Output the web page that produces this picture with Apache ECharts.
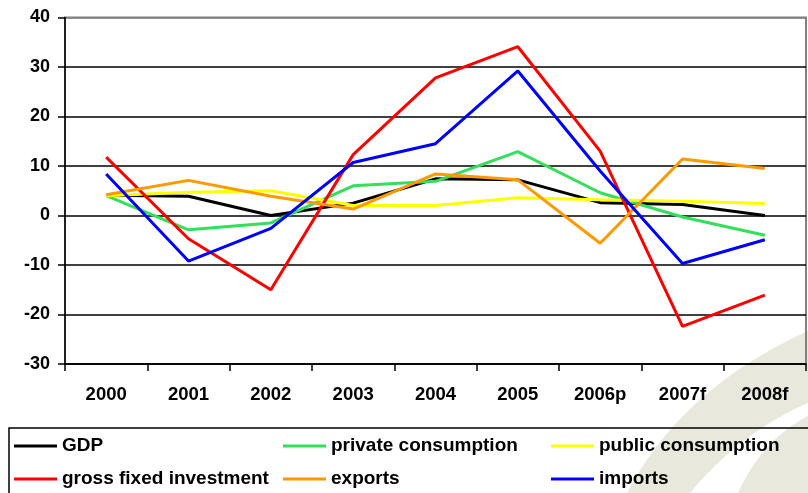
<!DOCTYPE html>
<html>
<head>
<meta charset="utf-8">
<script src="https://cdn.jsdelivr.net/npm/echarts@6/dist/echarts.min.js"></script>
<style>
  html, body { margin: 0; padding: 0; background: #ffffff; }
  #chart { width: 808px; height: 493px; }
</style>
</head>
<body>
<div id="chart"></div>
<script>
// Annual growth rates (%) by demand component
const years = ['2000', '2001', '2002', '2003', '2004', '2005', '2006p', '2007f', '2008f'];
const gdp = [4.1, 3.9, 0.0, 2.5, 7.4, 7.2, 2.6, 2.2, 0.0];
const privateConsumption = [4.0, -2.9, -1.5, 6.0, 6.9, 12.9, 4.6, -0.3, -4.0];
const publicConsumption = [4.0, 4.7, 5.0, 2.0, 2.0, 3.6, 3.2, 2.9, 2.4];
const grossFixedInvestment = [11.8, -4.7, -15.0, 12.3, 27.8, 34.1, 13.0, -22.4, -16.1];
const exportsGrowth = [4.2, 7.1, 3.9, 1.3, 8.4, 7.2, -5.6, 11.4, 9.5];
const importsGrowth = [8.4, -9.2, -2.6, 10.7, 14.5, 29.2, 9.0, -9.7, -4.9];
const yTicks = { min: -30, max: 40, interval: 10 };

const FONT = '"Liberation Sans", Arial, Helvetica, sans-serif';

const seriesDefs = [
  { name: 'GDP', data: gdp, color: '#000000' },
  { name: 'private consumption', data: privateConsumption, color: '#33e05a' },
  { name: 'public consumption', data: publicConsumption, color: '#ffff00' },
  { name: 'gross fixed investment', data: grossFixedInvestment, color: '#ff0000' },
  { name: 'exports', data: exportsGrowth, color: '#ff9900' },
  { name: 'imports', data: importsGrowth, color: '#0000ff' }
];

// Legend laid out as a 3-column, 2-row table
const legendSlots = [
  { left: 14, top: 436 }, { left: 283, top: 436 }, { left: 551, top: 436 },
  { left: 14, top: 469 }, { left: 283, top: 469 }, { left: 551, top: 469 }
];

const legends = seriesDefs.map((s, i) => ({
  data: [s.name],
  left: legendSlots[i].left,
  top: legendSlots[i].top,
  padding: 0,
  icon: 'rect',
  itemWidth: 43,
  itemHeight: 3,
  selectedMode: false,
  textStyle: {
    fontFamily: FONT, fontWeight: 'bold', fontSize: 19, color: '#000',
    lineHeight: 20
  }
}));

// Split line colours: the top line doubles as the grey plot frame
const splitColors = [];
for (let v = yTicks.min; v <= yTicks.max; v += yTicks.interval) {
  splitColors.push(v === yTicks.max ? '#808080' : '#000000');
}

// Sample a quadratic curve into polygon points (for the decorative swooshes)
function quad(p0, c, p1, steps) {
  const pts = [];
  for (let i = 0; i <= steps; i++) {
    const t = i / steps, u = 1 - t;
    pts.push([u * u * p0[0] + 2 * u * t * c[0] + t * t * p1[0],
              u * u * p0[1] + 2 * u * t * c[1] + t * t * p1[1]]);
  }
  return pts;
}
const swooshA = quad([808, 331], [682, 388], [627, 493], 30)
  .concat(quad([690, 493], [741, 432], [808, 403], 30));
const swooshB = quad([808, 416], [762, 440], [738, 493], 30).concat([[808, 493]]);

const chart = echarts.init(document.getElementById('chart'), null, { renderer: 'canvas' });

chart.setOption({
  animation: false,
  backgroundColor: '#ffffff',
  graphic: [
    {
      type: 'polygon', z: -10, silent: true,
      shape: { points: swooshA },
      style: { fill: '#e8e8dc' }
    },
    {
      type: 'polygon', z: -10, silent: true,
      shape: { points: swooshB },
      style: { fill: '#e8e8dc' }
    },
    // legend frame
    {
      type: 'rect', z: 1, silent: true,
      shape: { x: 9, y: 428, width: 820, height: 80 },
      style: { fill: 'none', stroke: '#000000', lineWidth: 1.5 }
    }
  ],
  grid: {
    left: 65, right: 2, top: 17.5, bottom: 129,
    show: true, borderColor: '#808080', borderWidth: 2, backgroundColor: 'transparent'
  },
  legend: legends,
  xAxis: {
    type: 'category',
    data: years,
    boundaryGap: true,
    axisLine: { onZero: false, lineStyle: { color: '#000', width: 1.5 } },
    axisTick: { show: true, length: 7, lineStyle: { color: '#000', width: 1.5 } },
    axisLabel: {
      margin: 21, color: '#000', fontFamily: FONT, fontWeight: 'bold', fontSize: 18.5,
      interval: 0
    },
    splitLine: { show: false }
  },
  yAxis: {
    type: 'value',
    min: yTicks.min, max: yTicks.max, interval: yTicks.interval,
    axisLine: { show: true, lineStyle: { color: '#000', width: 1.5 } },
    axisTick: { show: true, length: 7, lineStyle: { color: '#000', width: 1.5 } },
    axisLabel: {
      margin: 15, color: '#000', fontFamily: FONT, fontWeight: 'bold', fontSize: 18
    },
    splitLine: { show: true, lineStyle: { color: splitColors, width: 1.5 } }
  },
  series: seriesDefs.map(s => ({
    name: s.name,
    type: 'line',
    data: s.data,
    symbol: 'none',
    smooth: false,
    color: s.color,
    lineStyle: { color: s.color, width: 3 }
  }))
});
</script>
</body>
</html>
